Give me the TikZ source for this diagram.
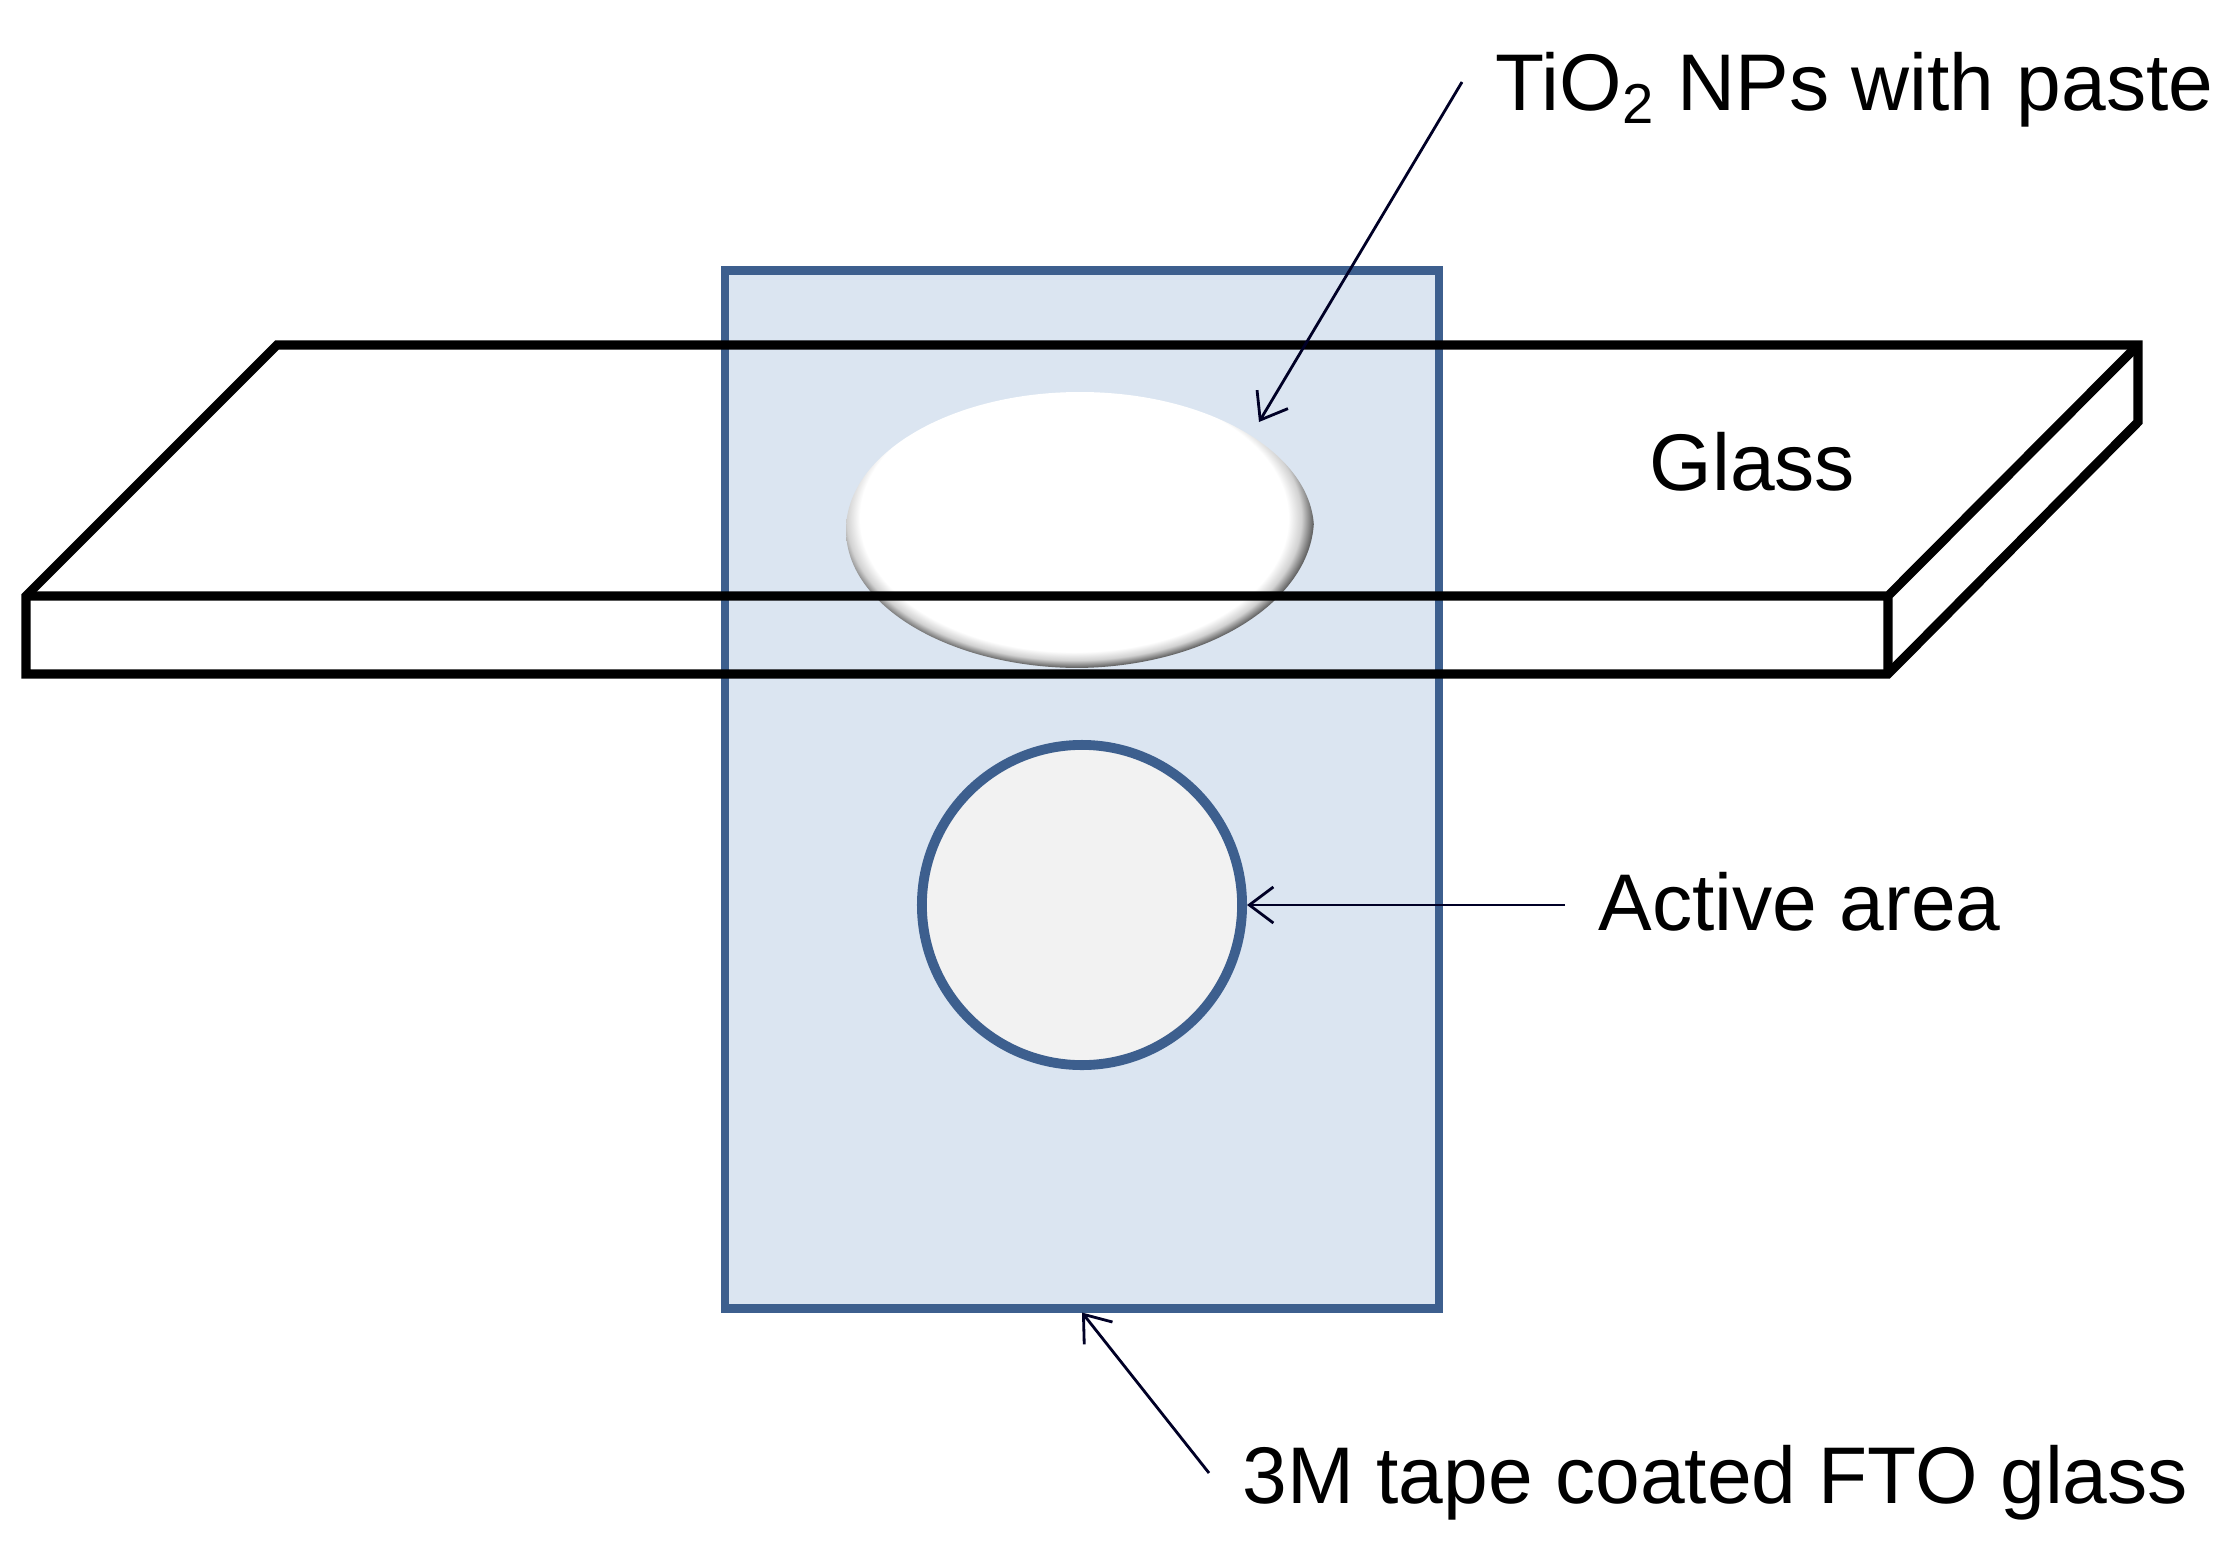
\documentclass[tikz,border=0pt]{standalone}
\usepackage{fontspec}
\setmainfont{Liberation Sans}
\usetikzlibrary{arrows.meta}
\definecolor{tapefill}{HTML}{DBE5F1}
\definecolor{tapeline}{HTML}{3D5F8E}
\definecolor{holefill}{HTML}{F2F2F2}
\pgfdeclareradialshading{pasteshade}{\pgfpointorigin}{%
  color(0bp)=(white); color(22.3bp)=(white); color(23.7bp)=(black!18);
  color(25bp)=(black!65); color(50bp)=(black!65)}
\tikzset{
  label/.style={anchor=base west,inner sep=0pt,font=\fontsize{22.85}{27}\selectfont},
  leader/.style={line width=0.8pt,black!85!blue,-{Straight Barb[length=2.4mm,width=3.6mm]}},
  glassline/.style={line width=2.6pt,miter limit=10}
}
\begin{document}
\begin{tikzpicture}[x=0.01cm,y=-0.01cm]
\useasboundingbox (0,0) rectangle (2226,1554);
\node[draw=tapeline,fill=tapefill,line width=2.4pt,minimum width=7.14cm,minimum height=10.37cm,inner sep=0pt] (tape) at (1082,789.5) {};
\scope % paste drop
\clip (1080,530) ellipse (234 and 138);
\shade[shading=pasteshade] (1074,518) ellipse (240 and 150);
\endscope
\node[circle,draw=tapeline,fill=holefill,line width=2.8pt,minimum size=3.2cm,inner sep=0pt] (active) at (1082,905) {};
% glass slide
\draw[glassline] (26,596) -- (277,345) -- (2138,345) -- (2138,422) -- (1888,674) -- (26,674) -- cycle;
\draw[glassline] (26,596) -- (1888,596) -- (2138,345)
      (1888,596) -- (1888,674);
% labels
\node[label] (paste) at (1495,110) {TiO\textsubscript{2} NPs with paste};
\node[label] (glass) at (1649,490) {Glass};
\node[label] (area) at (1598,930) {Active area};
\node[label] (fto) at (1242,1503) {3M tape coated FTO glass};
\coordinate (pastefrom) at (1462,82);
\coordinate (pastetip) at (1259,422);
\coordinate (areafrom) at (1565,905);
\coordinate (ftofrom) at (1209,1473);
\draw[leader] (pastefrom) -- (pastetip);
\draw[leader] (areafrom) -- (active.east);
\draw[leader] (ftofrom) -- (tape.south);
\end{tikzpicture}
\end{document}
